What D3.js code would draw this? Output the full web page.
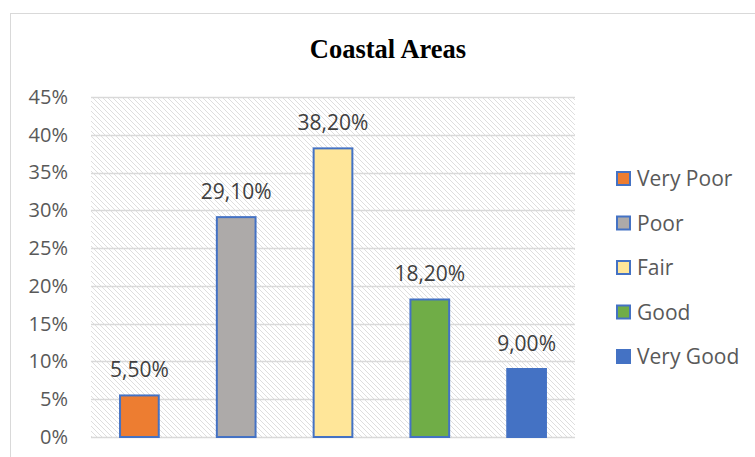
<!DOCTYPE html>
<html>
<head>
<meta charset="utf-8">
<script src="https://cdn.jsdelivr.net/npm/d3@7"></script>
<style>
  body { margin: 0; background: #fff; }
  svg { display: block; }
</style>
</head>
<body>
<script>
const categories = ['Very Poor', 'Poor', 'Fair', 'Good', 'Very Good']
const values = [5.5, 29.1, 38.2, 18.2, 9.0]
const labels = ['5,50%', '29,10%', '38,20%', '18,20%', '9,00%']
const colors = ['#ED7D31', '#ADAAA9', '#FFE699', '#70AD47', '#4472C4']
const yTicks = [0, 5, 10, 15, 20, 25, 30, 35, 40, 45]

const width = 755
const height = 457

const svg = d3.select('body')
  .append('svg')
  .attr('width', width)
  .attr('height', height)

// hatch pattern for plot area
const defs = svg.append('defs')
const pat = defs.append('pattern')
  .attr('id', 'hatch')
  .attr('patternUnits', 'userSpaceOnUse')
  .attr('width', 5)
  .attr('height', 5)
pat.append('path')
  .attr('d', 'M-1,-1 L6,6 M-1,4 L1,6 M4,-1 L6,1')
  .attr('stroke', '#dedede')
  .attr('stroke-width', 1)

// chart frame
svg.append('rect')
  .attr('x', 10.5)
  .attr('y', 13.5)
  .attr('width', 800)
  .attr('height', 500)
  .attr('fill', '#fff')
  .attr('stroke', '#d9d9d9')
  .attr('stroke-width', 1)

const x = d3.scaleBand()
  .domain(categories)
  .range([91, 575])
  .paddingInner(0.6)
  .paddingOuter(0.3)

const y = d3.scaleLinear()
  .domain([0, 45])
  .range([437, 97])

svg.append('rect')
  .attr('x', 91)
  .attr('y', 97)
  .attr('width', 575 - 91)
  .attr('height', 437 - 97)
  .attr('fill', 'url(#hatch)')

// gridlines
svg.append('g')
  .selectAll('line')
  .data(yTicks)
  .enter()
  .append('line')
  .attr('x1', 91)
  .attr('x2', 575)
  .attr('y1', d => Math.round(y(d)) + 0.5)
  .attr('y2', d => Math.round(y(d)) + 0.5)
  .attr('stroke', '#d9d9d9')
  .attr('stroke-width', 1.5)

// y axis labels
const yAxis = d3.axisLeft(y)
  .tickValues(yTicks)
  .tickFormat(d => d + '%')
  .tickSize(0)
  .tickPadding(0)

const yg = svg.append('g')
  .attr('transform', 'translate(68,0)')
  .call(yAxis)
yg.select('.domain').remove()
yg.selectAll('text')
  .attr('fill', '#595959')
  .style('font-family', '"Open Sans", sans-serif')
  .style('font-size', '20px')

// bars
svg.append('g')
  .selectAll('rect')
  .data(values)
  .enter()
  .append('rect')
  .attr('x', (d, i) => x(categories[i]))
  .attr('y', d => y(d))
  .attr('width', x.bandwidth())
  .attr('height', d => y(0) - y(d))
  .attr('fill', (d, i) => colors[i])
  .attr('stroke', '#4472C4')
  .attr('stroke-width', 2)

// data labels
svg.append('g')
  .selectAll('text')
  .data(values)
  .enter()
  .append('text')
  .attr('x', (d, i) => x(categories[i]) + x.bandwidth() / 2)
  .attr('y', d => y(d) - 18)
  .attr('text-anchor', 'middle')
  .attr('fill', '#404040')
  .style('font-family', '"Open Sans", sans-serif')
  .style('font-size', '21px')
  .text((d, i) => labels[i])

// title
svg.append('text')
  .attr('x', 388)
  .attr('y', 58)
  .attr('text-anchor', 'middle')
  .attr('fill', '#000')
  .style('font-family', '"Liberation Serif", "Times New Roman", serif')
  .style('font-weight', 'bold')
  .style('font-size', '26.5px')
  .text('Coastal Areas')

// legend
const legend = svg.append('g')
  .selectAll('g')
  .data(categories)
  .enter()
  .append('g')
  .attr('transform', (d, i) => `translate(616,${178 + i * 44.5})`)

legend.append('rect')
  .attr('x', 1)
  .attr('y', -6)
  .attr('width', 13)
  .attr('height', 13)
  .attr('fill', (d, i) => colors[i])
  .attr('stroke', '#4472C4')
  .attr('stroke-width', 2)

legend.append('text')
  .attr('x', 21)
  .attr('y', 8)
  .attr('fill', '#595959')
  .style('font-family', '"Open Sans", sans-serif')
  .style('font-size', '21px')
  .text(d => d)
</script>
</body>
</html>
